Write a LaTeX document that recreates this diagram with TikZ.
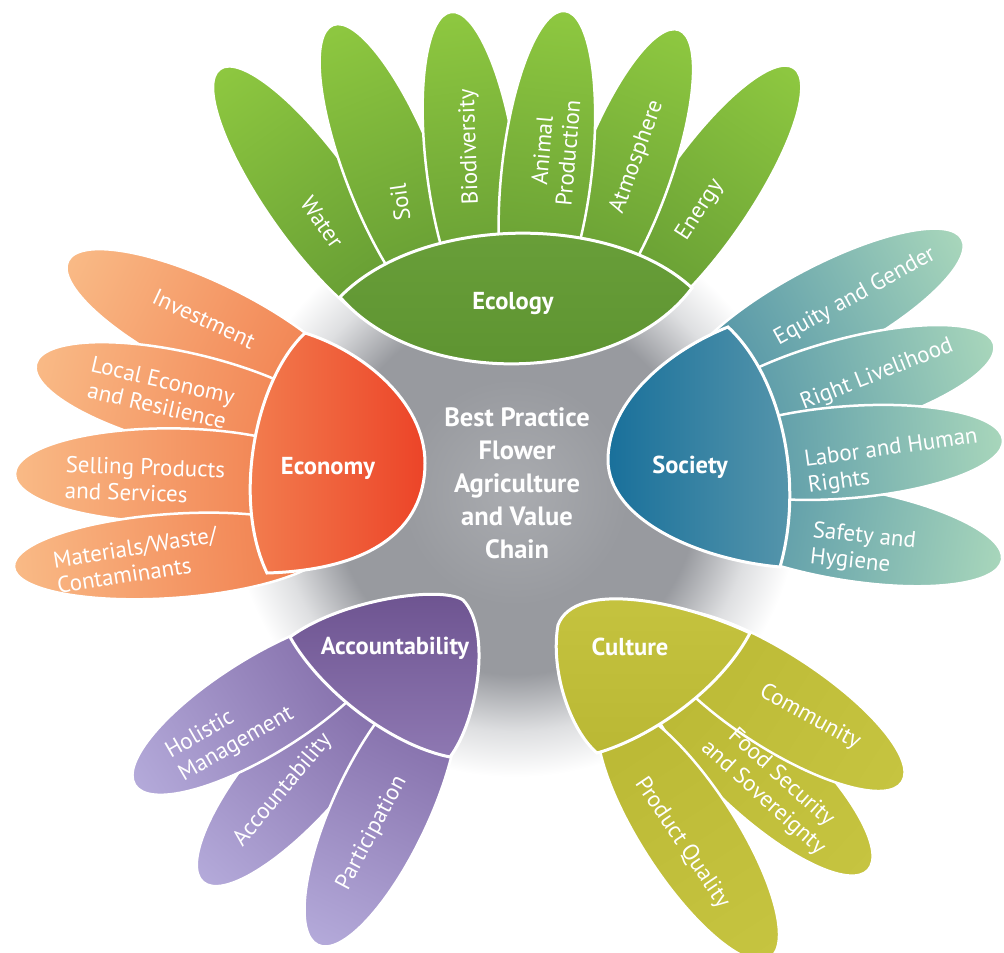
\documentclass[tikz,border=0pt]{standalone}
\usepackage{fontspec}
\setmainfont{PT Sans}
% colours of the five groups
\definecolor{ecoTip}{RGB}{142,200,64}
\definecolor{ecoBase}{RGB}{96,150,50}
\definecolor{ecoHubTop}{RGB}{106,160,58}
\definecolor{ecoHubBot}{RGB}{92,146,48}
\definecolor{econTip}{RGB}{249,186,134}
\definecolor{econBase}{RGB}{240,120,72}
\definecolor{econHubL}{RGB}{243,130,82}
\definecolor{econHubR}{RGB}{236,68,40}
\definecolor{socTip}{RGB}{168,214,187}
\definecolor{socBase}{RGB}{70,138,164}
\definecolor{socHubL}{RGB}{25,112,155}
\definecolor{socHubR}{RGB}{90,152,172}
\definecolor{culTip}{RGB}{198,196,64}
\definecolor{culBase}{RGB}{186,184,52}
\definecolor{accTip}{RGB}{180,170,218}
\definecolor{accBase}{RGB}{122,98,160}
\definecolor{accHubTop}{RGB}{108,82,143}
\definecolor{accHubBot}{RGB}{142,120,178}
% grey glow in the middle
\definecolor{glowMid}{RGB}{170,172,176}
\definecolor{glowDark}{RGB}{152,154,159}
\definecolor{glowFade}{RGB}{222,223,225}
\pgfdeclareradialshading{centreglow}{\pgfpoint{0bp}{0bp}}{%
  color(0bp)=(glowMid); color(10bp)=(glowDark); color(16bp)=(glowDark);
  color(21bp)=(glowFade); color(25bp)=(white); color(50bp)=(white)}
\tikzset{
  petal/.style={draw=white, line width=2.5},
  hub/.style={draw=white, line width=3},
  eco petal/.style={petal, left color=ecoBase, right color=ecoTip},
  econ petal/.style={petal, left color=econBase, right color=econTip},
  soc petal/.style={petal, left color=socBase, right color=socTip},
  cul petal/.style={petal, left color=culBase, right color=culTip},
  acc petal/.style={petal, left color=accBase, right color=accTip},
  leaf/.style={text=white, inner sep=0pt, align=center,
    font=\fontsize{23}{26}\selectfont},
  hub label/.style={text=white, inner sep=0pt,
    font=\fontsize{24.5}{28}\selectfont\bfseries},
  core/.style={text=white, inner sep=0pt, align=center,
    font=\fontsize{26.5}{33}\selectfont\bfseries}
}
% one petal: tip, direction, half length, half width, look
\newcommand\petal[5]{%
  \begin{scope}[transform canvas={shift={#1}, rotate=#2}]
    \shade[#5] (-#3,0) ellipse [x radius=#3, y radius=#4];
  \end{scope}}
\begin{document}
\begin{tikzpicture}[x=1pt, y=-1pt]
  \useasboundingbox[fill=white] (0,0) rectangle (1004,953);
  \coordinate (C) at (515,492);
  \shade[shading=centreglow] (C) circle [radius=285];

  % Ecology
  \petal{(220,69)}{125.5}{160}{45}{eco petal}
  \petal{(333,25)}{111.5}{160}{45}{eco petal}
  \petal{(794,68)}{55.5}{160}{45}{eco petal}
  \petal{(679,30)}{69.5}{160}{45}{eco petal}
  \petal{(451,12)}{97.5}{160}{45}{eco petal}
  \petal{(565,11)}{83.5}{160}{45}{eco petal}
  \shade[hub, top color=ecoHubTop, bottom color=ecoHubBot]
    (340,297) .. controls (420,215) and (610,212) .. (692,288)
    .. controls (620,385) and (420,390) .. (340,297) -- cycle;

  % Economy
  \petal{(68,261)}{154}{158}{47}{econ petal}
  \petal{(36,364)}{166.5}{158}{47}{econ petal}
  \petal{(15,474)}{179.5}{158}{47}{econ petal}
  \petal{(14,567)}{184}{158}{42}{econ petal}
  \shade[hub, left color=econHubL, right color=econHubR]
    (305,333) .. controls (255,380) and (232,500) .. (267,573)
    .. controls (370,570) and (425,530) .. (425,463)
    .. controls (425,400) and (360,350) .. (305,333) -- cycle;

  % Society
  \petal{(962,239)}{28}{158}{46}{soc petal}
  \petal{(994,344)}{15.5}{158}{46}{soc petal}
  \petal{(1002,560)}{-9.5}{158}{46}{soc petal}
  \petal{(1003,440)}{4.5}{158}{46}{soc petal}
  \shade[hub, left color=socHubL, right color=socHubR]
    (728,327) .. controls (780,375) and (805,480) .. (780,567)
    .. controls (700,560) and (608,520) .. (608,460)
    .. controls (608,400) and (670,350) .. (728,327) -- cycle;

  % Culture
  \petal{(868,870)}{-43}{150}{47}{cul petal}
  \petal{(902,782)}{-33}{150}{47}{cul petal}
  \petal{(770,958)}{-57}{150}{47}{cul petal}
  \shade[hub, top color=culTip, bottom color=culBase]
    (597,753) .. controls (650,738) and (720,690) .. (750,633)
    .. controls (680,600) and (575,580) .. (558,625)
    .. controls (550,670) and (570,730) .. (597,753) -- cycle;

  % Accountability
  \petal{(203,882)}{229}{150}{47}{acc petal}
  \petal{(135,785)}{212}{150}{48}{acc petal}
  \petal{(318,945)}{245}{150}{48}{acc petal}
  \shade[hub, top color=accHubTop, bottom color=accHubBot]
    (290,637) .. controls (320,690) and (390,745) .. (450,757)
    .. controls (478,720) and (492,630) .. (463,600)
    .. controls (440,585) and (340,600) .. (290,637) -- cycle;

  % labels
  \node[core] (core) at (517,483) {Best Practice\\Flower\\Agriculture\\and Value\\Chain};

  \node[hub label] (ecology) at (513,304) {Ecology};
  \node[leaf, rotate=-55] (water) at (322,222) {Water};
  \node[leaf, rotate=98] (soil) at (400,202) {Soil};
  \node[leaf, rotate=92] (biodiv) at (470,147) {Biodiversity};
  \node[leaf, rotate=85] (animal) at (555,152) {Animal\\Production};
  \node[leaf, rotate=70] (atmos) at (637,157) {Atmosphere};
  \node[leaf, rotate=57] (energy) at (700,210) {Energy};

  \node[hub label] (economy) at (328,468) {Economy};
  \node[leaf, rotate=-25] (invest) at (204,319) {Investment};
  \node[leaf, rotate=-13] (local) at (160,393) {Local Economy\\and Resilience};
  \node[leaf, align=left, rotate=-2] (selling) at (145,480) {Selling Products\\and Services};
  \node[leaf, align=left, rotate=9] (materials) at (137,560) {Materials/Waste/\\Contaminants};

  \node[hub label] (society) at (690,467) {Society};
  \node[leaf, rotate=29] (equity) at (855,297) {Equity and Gender};
  \node[leaf, rotate=21.5] (liveli) at (877,375) {Right Livelihood};
  \node[leaf, align=left, rotate=8] (labor) at (893,462) {Labor and Human\\Rights};
  \node[leaf, align=left, rotate=-6] (safety) at (863,550) {Safety and\\Hygiene};

  \node[hub label] (culture) at (630,647) {Culture};
  \node[leaf, rotate=-29] (commun) at (810,717) {Community};
  \node[leaf, rotate=-42, font=\fontsize{23}{27}\selectfont] (food) at (772,788) {Food Security\\and Sovereignty};
  \node[leaf, rotate=-56] (quality) at (682,843) {Product Quality};

  \node[hub label] (account) at (395,648) {Accountability};
  \node[leaf, align=left, rotate=30] (holistic) at (230,733) {Holistic\\Management};
  \node[leaf, rotate=50] (accpetal) at (283,790) {Accountability};
  \node[leaf, rotate=62] (partic) at (372,833) {Participation};
\end{tikzpicture}
\end{document}
